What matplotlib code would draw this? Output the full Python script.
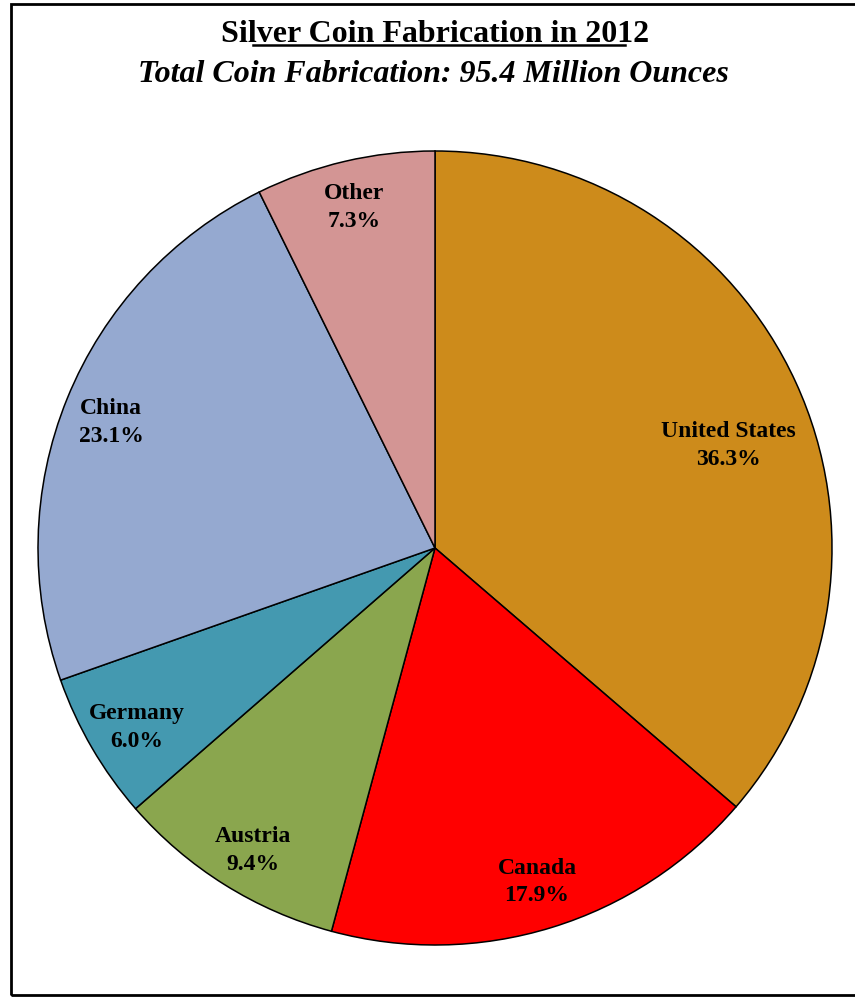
import matplotlib
matplotlib.use("Agg")
import matplotlib.pyplot as plt
from matplotlib.patches import Rectangle
from matplotlib.lines import Line2D

# Silver coin fabrication by country, 2012 (share of total, %)
countries = ["United States", "Canada", "Austria", "Germany", "China", "Other"]
shares = [36.3, 17.9, 9.4, 6.0, 23.1, 7.3]
colors = ["#CD8B1B", "#FF0000", "#8AA64E", "#4499B0", "#95A9D0", "#D39594"]
title = "Silver Coin Fabrication in 2012"
subtitle = "Total Coin Fabrication: 95.4 Million Ounces"

# label anchor points (pie radius = 1)
label_pos = [(0.738, 0.258), (0.257, -0.842), (-0.458, -0.762),
             (-0.751, -0.452), (-0.816, 0.316), (-0.204, 0.858)]

W, H, DPI = 855, 998, 100
fig = plt.figure(figsize=(W / DPI, H / DPI), dpi=DPI)
fig.patch.set_facecolor("white")

# outer frame
fig.patches.append(Rectangle((11 / W, 1 - 995 / H), 860 / W, (995 - 4) / H,
                             transform=fig.transFigure, fill=False,
                             edgecolor="black", linewidth=2.0))

cx, cy, R = 435, 548, 397
half = 410
ax = fig.add_axes([(cx - half) / W, (H - cy - half) / H, 2 * half / W, 2 * half / H])

wedges, _ = ax.pie(shares, colors=colors, startangle=90, counterclock=False,
                   radius=1.0, wedgeprops=dict(edgecolor="black", linewidth=1.1))
lim = half / R
ax.set_xlim(-lim, lim)
ax.set_ylim(-lim, lim)
ax.set_aspect("equal")
ax.axis("off")

serif = ["Liberation Serif", "DejaVu Serif"]
for name, val, (x, y) in zip(countries, shares, label_pos):
    ax.text(x, y, f"{name}\n{val:.1f}%", ha="center", va="center",
            fontsize=17, fontweight="bold", family=serif, linespacing=1.4)

fig.text(435 / W, 1 - 42 / H, title, ha="center", va="baseline",
         fontsize=23, fontweight="bold", family=serif)
fig.text(433 / W, 1 - 82 / H, subtitle, ha="center", va="baseline",
         fontsize=23, fontweight="bold", fontstyle="italic", family=serif)
fig.lines.append(Line2D([253 / W, 625 / W], [1 - 45 / H, 1 - 45 / H],
                        transform=fig.transFigure, color="black", linewidth=1.8))

fig.savefig("out.png", dpi=DPI)
